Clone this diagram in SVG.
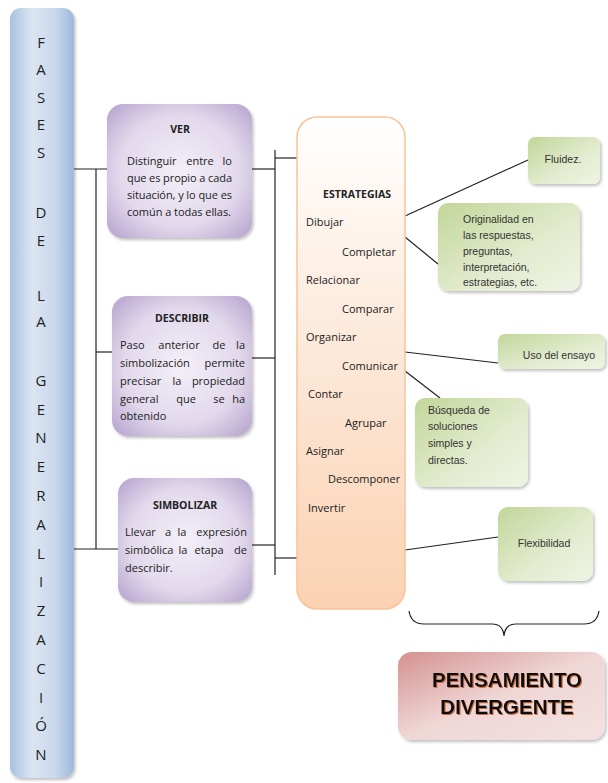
<svg xmlns="http://www.w3.org/2000/svg" width="608" height="783" viewBox="0 0 608 783">
<defs>
<linearGradient id="gBar" x1="0" y1="0" x2="1" y2="0">
<stop offset="0" stop-color="#a9c1e0"/><stop offset="0.35" stop-color="#dbe5f2"/><stop offset="0.7" stop-color="#c9d8ec"/><stop offset="1" stop-color="#9fb9da"/>
</linearGradient>
<radialGradient id="gPurple" cx="0.5" cy="0.5" r="0.75">
<stop offset="0" stop-color="#f3eff7"/><stop offset="0.55" stop-color="#e2d9ec"/><stop offset="1" stop-color="#ad98c8"/>
</radialGradient>
<linearGradient id="gPeach" x1="0" y1="0" x2="0" y2="1">
<stop offset="0" stop-color="#ffffff"/><stop offset="0.35" stop-color="#fdeee2"/><stop offset="1" stop-color="#fbd2b2"/>
</linearGradient>
<linearGradient id="gGreen" x1="0" y1="0" x2="1" y2="1">
<stop offset="0" stop-color="#c2d69a"/><stop offset="0.6" stop-color="#e3ecd0"/><stop offset="1" stop-color="#eef4e3"/>
</linearGradient>
<linearGradient id="gRed" x1="0" y1="0" x2="1" y2="1">
<stop offset="0" stop-color="#d4918f"/><stop offset="0.5" stop-color="#efd7d6"/><stop offset="1" stop-color="#f3e1e0"/>
</linearGradient>
<filter id="sh" x="-10%" y="-10%" width="125%" height="125%">
<feDropShadow dx="1.5" dy="2" stdDeviation="1.5" flood-color="#000" flood-opacity="0.25"/>
</filter>
<filter id="tsh" x="-5%" y="-20%" width="110%" height="140%">
<feDropShadow dx="1" dy="1" stdDeviation="0.6" flood-color="#c0602a" flood-opacity="0.9"/>
</filter>
</defs>
<style>
.bar{fill:url(#gBar);filter:url(#sh)}
.pur{fill:url(#gPurple);filter:url(#sh)}
.peach{fill:url(#gPeach);stroke:#f8c39a;stroke-width:1.5}
.grn{fill:url(#gGreen);filter:url(#sh)}
.red{fill:url(#gRed);filter:url(#sh)}
.let{font-family:"Open Sans","Noto Sans",sans-serif;font-size:15px;fill:#222;text-anchor:middle}
.t{font-family:"Open Sans","Noto Sans",sans-serif;font-size:11px;fill:#222}
.b{font-family:"Open Sans","Noto Sans",sans-serif;font-size:10.5px;font-weight:bold;fill:#222;text-anchor:middle}
.g{font-family:"Liberation Sans",Arial,sans-serif;font-size:10.5px;fill:#333}
.big{font-family:"Liberation Sans",Arial,sans-serif;font-size:20.5px;font-weight:bold;fill:#111;text-anchor:middle;filter:url(#tsh)}
.ln{stroke:#222;stroke-width:1.2;fill:none}
</style>

<g id="fases">
<rect class="bar" x="10" y="8" width="64" height="770" rx="11"/>
<text class="let" x="41" y="48">F</text>
<text class="let" x="41" y="75">A</text>
<text class="let" x="41" y="103">S</text>
<text class="let" x="41" y="130">E</text>
<text class="let" x="41" y="158">S</text>
<text class="let" x="41" y="218">D</text>
<text class="let" x="41" y="246">E</text>
<text class="let" x="41" y="301">L</text>
<text class="let" x="41" y="327">A</text>
<text class="let" x="41" y="386">G</text>
<text class="let" x="41" y="415">E</text>
<text class="let" x="41" y="443">N</text>
<text class="let" x="41" y="472">E</text>
<text class="let" x="41" y="501">R</text>
<text class="let" x="41" y="530">A</text>
<text class="let" x="41" y="559">L</text>
<text class="let" x="41" y="587">I</text>
<text class="let" x="41" y="616">Z</text>
<text class="let" x="41" y="645">A</text>
<text class="let" x="41" y="674">C</text>
<text class="let" x="41" y="703">I</text>
<text class="let" x="41" y="731">Ó</text>
<text class="let" x="41" y="760">N</text>
</g>

<g id="connectors" class="ln">
<line x1="74" y1="169" x2="107" y2="169"/>
<line x1="96" y1="169" x2="96" y2="549"/>
<line x1="96" y1="352" x2="112" y2="352"/>
<line x1="74" y1="549" x2="118" y2="549"/>
<line x1="252" y1="169" x2="275" y2="169"/>
<line x1="252" y1="358" x2="275" y2="358"/>
<line x1="252" y1="545" x2="275" y2="545"/>
<line x1="275" y1="150" x2="275" y2="575"/>
<line x1="275" y1="158" x2="297" y2="158"/>
<line x1="275" y1="558" x2="297" y2="558"/>
<line x1="405" y1="216" x2="528" y2="160"/>
<line x1="405" y1="237" x2="438" y2="264"/>
<line x1="405" y1="352" x2="498" y2="363"/>
<line x1="405" y1="371" x2="440" y2="398"/>
<line x1="405" y1="550" x2="498" y2="537"/>
<path d="M409,611 Q411,624 424,624 L492,624 Q503,624 504,636 Q505,624 516,624 L584,624 Q597,624 599,611"/>
</g>

<g id="ver">
<rect class="pur" x="107" y="104" width="145" height="134" rx="16"/>
<text class="b" x="180" y="133">VER</text>
<text class="t" y="165"><tspan x="127">Distinguir</tspan><tspan x="200" text-anchor="middle">entre</tspan><tspan x="232" text-anchor="end">lo</tspan></text>
<text class="t" x="127" y="182" textLength="105" lengthAdjust="spacing">que es propio a cada</text>
<text class="t" x="127" y="199" textLength="105" lengthAdjust="spacing">situación, y lo que es</text>
<text class="t" x="127" y="216" textLength="104" lengthAdjust="spacing">común a todas ellas.</text>
</g>

<g id="describir">
<rect class="pur" x="112" y="296" width="140" height="140" rx="16"/>
<text class="b" x="182" y="322">DESCRIBIR</text>
<text class="t" y="349"><tspan x="120">Paso</tspan><tspan x="179" text-anchor="middle">anterior</tspan><tspan x="219" text-anchor="middle">de</tspan><tspan x="245" text-anchor="end">la</tspan></text>
<text class="t" y="367"><tspan x="120">simbolización</tspan><tspan x="245" text-anchor="end">permite</tspan></text>
<text class="t" y="385"><tspan x="120">precisar</tspan><tspan x="177" text-anchor="middle">la</tspan><tspan x="245" text-anchor="end">propiedad</tspan></text>
<text class="t" y="403"><tspan x="120">general</tspan><tspan x="186" text-anchor="middle">que</tspan><tspan x="219" text-anchor="middle">se</tspan><tspan x="245" text-anchor="end">ha</tspan></text>
<text class="t" x="120" y="420">obtenido</text>
</g>

<g id="simbolizar">
<rect class="pur" x="118" y="478" width="134" height="124" rx="16"/>
<text class="b" x="185" y="509">SIMBOLIZAR</text>
<text class="t" y="536"><tspan x="125">Llevar</tspan><tspan x="168" text-anchor="middle">a</tspan><tspan x="182" text-anchor="middle">la</tspan><tspan x="247" text-anchor="end">expresión</tspan></text>
<text class="t" y="554"><tspan x="125">simbólica</tspan><tspan x="183" text-anchor="middle">la</tspan><tspan x="209" text-anchor="middle">etapa</tspan><tspan x="247" text-anchor="end">de</tspan></text>
<text class="t" x="125" y="572">describir.</text>
</g>

<g id="estrategias">
<rect class="peach" x="297" y="117" width="108" height="492" rx="20"/>
<text class="b" x="357" y="198">ESTRATEGIAS</text>
<text class="t" x="306" y="226">Dibujar</text>
<text class="t" x="342" y="256">Completar</text>
<text class="t" x="306" y="284">Relacionar</text>
<text class="t" x="342" y="313">Comparar</text>
<text class="t" x="306" y="341">Organizar</text>
<text class="t" x="342" y="370">Comunicar</text>
<text class="t" x="308" y="398">Contar</text>
<text class="t" x="345" y="427">Agrupar</text>
<text class="t" x="306" y="455">Asignar</text>
<text class="t" x="328" y="483">Descomponer</text>
<text class="t" x="308" y="512">Invertir</text>
</g>

<g id="fluidez">
<rect class="grn" x="528" y="137" width="72" height="47" rx="7"/>
<text class="g" x="563" y="163" text-anchor="middle">Fluidez.</text>
</g>

<g id="originalidad">
<rect class="grn" x="438" y="203" width="142" height="88" rx="10"/>
<text class="g" x="463" y="223">Originalidad en</text>
<text class="g" x="463" y="239">las respuestas,</text>
<text class="g" x="463" y="255">preguntas,</text>
<text class="g" x="463" y="271">interpretación,</text>
<text class="g" x="463" y="286">estrategias, etc.</text>
</g>

<g id="uso">
<rect class="grn" x="498" y="334" width="107" height="35" rx="7"/>
<text class="g" x="559" y="359" text-anchor="middle">Uso del ensayo</text>
</g>

<g id="busqueda">
<rect class="grn" x="415" y="398" width="113" height="89" rx="10"/>
<text class="g" x="428" y="414">Búsqueda de</text>
<text class="g" x="428" y="430">soluciones</text>
<text class="g" x="428" y="447">simples y</text>
<text class="g" x="428" y="464">directas.</text>
</g>

<g id="flexibilidad">
<rect class="grn" x="498" y="507" width="95" height="74" rx="10"/>
<text class="g" x="544" y="547" text-anchor="middle">Flexibilidad</text>
</g>

<g id="pensamiento">
<rect class="red" x="398" y="652" width="207" height="88" rx="14"/>
<text class="big" x="507" y="687">PENSAMIENTO</text>
<text class="big" x="507" y="714">DIVERGENTE</text>
</g>
</svg>
